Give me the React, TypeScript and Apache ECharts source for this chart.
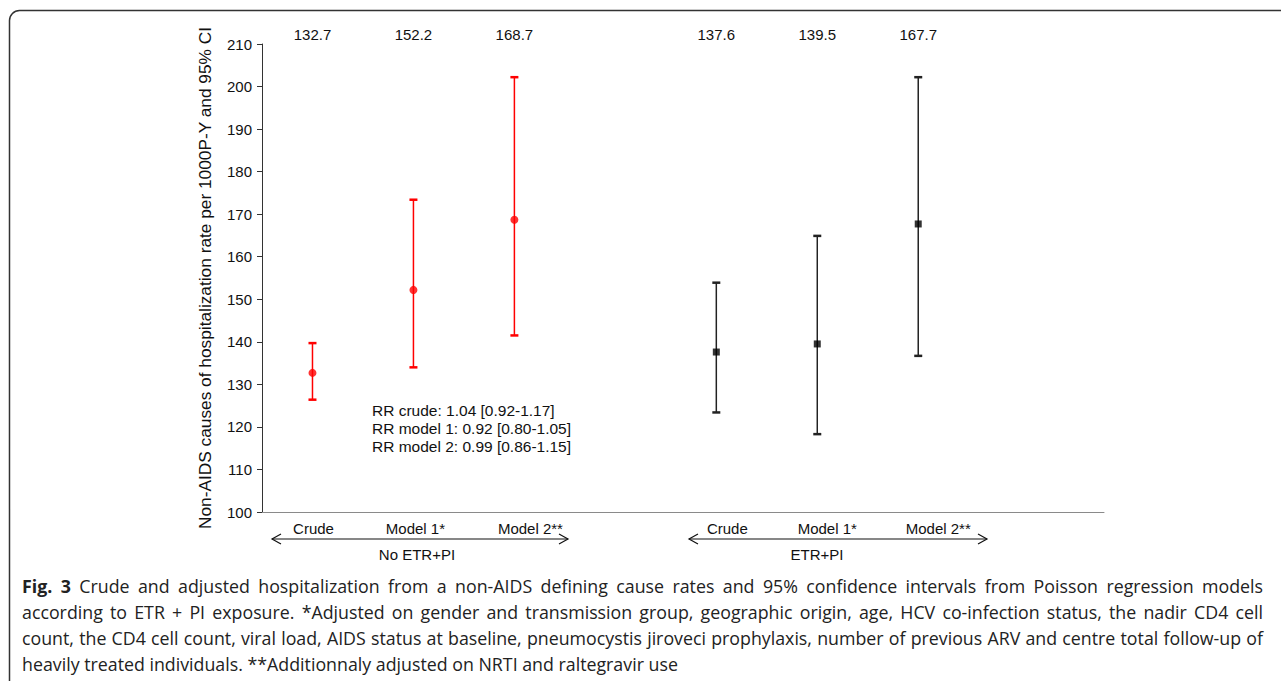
import React, { useEffect, useRef } from 'react';
import * as echarts from 'echarts';

const subgroups = ['Crude', 'Model 1*', 'Model 2**'];
const groups = ['No ETR+PI', 'ETR+PI'];
const slotNo = [0.5, 1.5, 2.5];
const slotEtr = [4.5, 5.5, 6.5];
const rateNo = [132.7, 152.2, 168.7];
const lowNo = [126.4, 134.0, 141.5];
const highNo = [139.7, 173.4, 202.2];
const rateEtr = [137.6, 139.5, 167.7];
const lowEtr = [123.4, 118.3, 136.7];
const highEtr = [153.9, 164.9, 202.2];
const yMin = 100;
const yMax = 210;
const yStep = 10;
const yTitle = 'Non-AIDS causes of hospitalization rate per 1000P-Y and 95% CI';
const rrLines = [
  'RR crude: 1.04 [0.92-1.17]',
  'RR model 1: 0.92 [0.80-1.05]',
  'RR model 2: 0.99 [0.86-1.15]',
];
const captionLabel = 'Fig. 3';
const captionLines = [
  'Crude and adjusted hospitalization from a non-AIDS defining cause rates and 95% confidence intervals from Poisson regression models',
  'according to ETR + PI exposure. *Adjusted on gender and transmission group, geographic origin, age, HCV co-infection status, the nadir CD4 cell',
  'count, the CD4 cell count, viral load, AIDS status at baseline, pneumocystis jiroveci prophylaxis, number of previous ARV and centre total follow-up of',
  'heavily treated individuals. **Additionnaly adjusted on NRTI and raltegravir use',
];

const FONT = '"Liberation Sans", Arial, Helvetica, sans-serif';
const CAP_FONT = '"Open Sans", "Noto Sans", sans-serif';
const CAP_SIZE = 17.8;
const labelShift = [1, 2, 16, 11, 10, 20];

function errorSeries(slots: number[], low: number[], high: number[], rate: number[], color: string) {
  return {
    type: 'custom',
    clip: false,
    data: slots.map((s, i) => [s, low[i], high[i], rate[i]]),
    renderItem: (params: any, api: any) => {
      const x = api.value(0);
      const pLo = api.coord([x, api.value(1)]);
      const pHi = api.coord([x, api.value(2)]);
      const cw = 4;
      return {
        type: 'group',
        children: [
          { type: 'line', shape: { x1: pLo[0], y1: pLo[1], x2: pHi[0], y2: pHi[1] }, style: { stroke: color, lineWidth: 1.5 } },
          { type: 'line', shape: { x1: pHi[0] - cw, y1: pHi[1], x2: pHi[0] + cw, y2: pHi[1] }, style: { stroke: color, lineWidth: 2.5 } },
          { type: 'line', shape: { x1: pLo[0] - cw, y1: pLo[1], x2: pLo[0] + cw, y2: pLo[1] }, style: { stroke: color, lineWidth: 2.5 } },
          {
            type: 'text',
            style: {
              x: pHi[0], y: 34, text: Number(api.value(3)).toFixed(1),
              fill: '#111', font: `15px ${FONT}`,
              align: 'center', verticalAlign: 'middle', textAlign: 'center', textVerticalAlign: 'middle',
            },
          },
        ],
      };
    },
  };
}

function arrow(x1: number, x2: number, y: number) {
  const h = 9, v = 5;
  return [
    { type: 'line', shape: { x1, y1: y, x2, y2: y }, style: { stroke: '#111', lineWidth: 1.2 } },
    { type: 'polyline', shape: { points: [[x1 + h, y - v], [x1, y], [x1 + h, y + v]] }, style: { stroke: '#111', lineWidth: 1.2, fill: 'none' } },
    { type: 'polyline', shape: { points: [[x2 - h, y - v], [x2, y], [x2 - h, y + v]] }, style: { stroke: '#111', lineWidth: 1.2, fill: 'none' } },
  ];
}

function captionElements(left: number, right: number, top: number, lineH: number) {
  const canvas = document.createElement('canvas');
  const ctx = canvas.getContext('2d') as CanvasRenderingContext2D;
  const fontN = `${CAP_SIZE}px ${CAP_FONT}`;
  const fontB = `bold ${CAP_SIZE}px ${CAP_FONT}`;
  const els: any[] = [];
  captionLines.forEach((line, li) => {
    const words: { t: string; bold: boolean }[] = [];
    if (li === 0) captionLabel.split(' ').forEach((w) => words.push({ t: w, bold: true }));
    line.split(' ').forEach((w) => words.push({ t: w, bold: false }));
    const widths = words.map((w) => {
      ctx.font = w.bold ? fontB : fontN;
      return ctx.measureText(w.t).width;
    });
    ctx.font = fontN;
    const spaceW = ctx.measureText(' ').width;
    const total = widths.reduce((a, b) => a + b, 0);
    const justify = li < captionLines.length - 1;
    const gap = justify ? (right - left - total) / (words.length - 1) : spaceW;
    let x = left;
    words.forEach((w, wi) => {
      els.push({
        type: 'text', x, y: top + li * lineH,
        style: { text: w.t, font: w.bold ? fontB : fontN, fill: '#222', verticalAlign: 'top', textVerticalAlign: 'top' },
      });
      x += widths[wi] + gap;
    });
  });
  return els;
}

export default function App() {
  const ref = useRef<HTMLDivElement>(null);
  useEffect(() => {
    if (!ref.current) return;
    const chart = echarts.init(ref.current, null, { renderer: 'svg' });
    const allSlots = [...slotNo, ...slotEtr];
    const allNames = [...subgroups, ...subgroups];
    const rich: any = {};
    labelShift.forEach((d, i) => {
      rich['s' + i] = { fontSize: 15, fontFamily: FONT, color: '#111', padding: [0, 0, 0, d * 2] };
    });
    const option: any = {
      animation: false,
      backgroundColor: '#fff',
      grid: { left: 262, top: 44, right: 177, bottom: 169, containLabel: false },
      xAxis: {
        type: 'value', min: 0, max: 8.34, interval: 0.5,
        axisLine: { show: true, lineStyle: { color: '#8a8a8a', width: 1 } },
        axisTick: { show: false },
        splitLine: { show: false },
        axisLabel: {
          margin: 9,
          showMaxLabel: false,
          formatter: (v: number) => {
            const i = allSlots.findIndex((s) => Math.abs(s - v) < 1e-6);
            return i < 0 ? '' : `{s${i}|${allNames[i]}}`;
          },
          rich,
        },
      },
      yAxis: {
        type: 'value', min: yMin, max: yMax, interval: yStep,
        name: yTitle, nameLocation: 'middle', nameGap: 49, nameRotate: 90,
        nameTextStyle: { fontSize: 17.3, fontFamily: FONT, color: '#111' },
        axisLine: { show: true, lineStyle: { color: '#333', width: 1 } },
        axisTick: { show: true, length: 5, lineStyle: { color: '#333' } },
        splitLine: { show: false },
        axisLabel: { fontSize: 15, fontFamily: FONT, color: '#111', margin: 10 },
      },
      series: [
        errorSeries(slotNo, lowNo, highNo, rateNo, '#ff0000'),
        errorSeries(slotEtr, lowEtr, highEtr, rateEtr, '#222222'),
        {
          type: 'scatter', symbol: 'circle', symbolSize: 8,
          itemStyle: { color: '#ff0000' },
          data: slotNo.map((s, i) => [s, rateNo[i]]), z: 5,
        },
        {
          type: 'scatter', symbol: 'rect', symbolSize: 7,
          itemStyle: { color: '#000' },
          data: slotEtr.map((s, i) => [s, rateEtr[i]]), z: 5,
        },
      ],
      graphic: [
        { type: 'rect', shape: { x: 9.5, y: 10.5, width: 1300, height: 720, r: 10 }, style: { fill: 'none', stroke: '#333', lineWidth: 1.5 }, z: 10 },
        ...rrLines.map((t, i) => ({
          type: 'text', left: 372, top: 402 + i * 18,
          style: { text: t, font: `15.5px ${FONT}`, fill: '#111' },
        })),
        ...arrow(272, 568, 539),
        ...arrow(689, 987, 539),
        { type: 'text', style: { x: 417, y: 554, text: groups[0], font: `15px ${FONT}`, fill: '#111', align: 'center', verticalAlign: 'middle', textAlign: 'center', textVerticalAlign: 'middle' } },
        { type: 'text', style: { x: 817, y: 554, text: groups[1], font: `15px ${FONT}`, fill: '#111', align: 'center', verticalAlign: 'middle', textAlign: 'center', textVerticalAlign: 'middle' } },
        ...captionElements(22, 1263, 577, 26),
      ],
    };
    chart.setOption(option);
    return () => chart.dispose();
  }, []);
  return <div ref={ref} style={{ position: 'fixed', left: 0, top: 0, width: 1281, height: 681, background: '#fff' }} />;
}
